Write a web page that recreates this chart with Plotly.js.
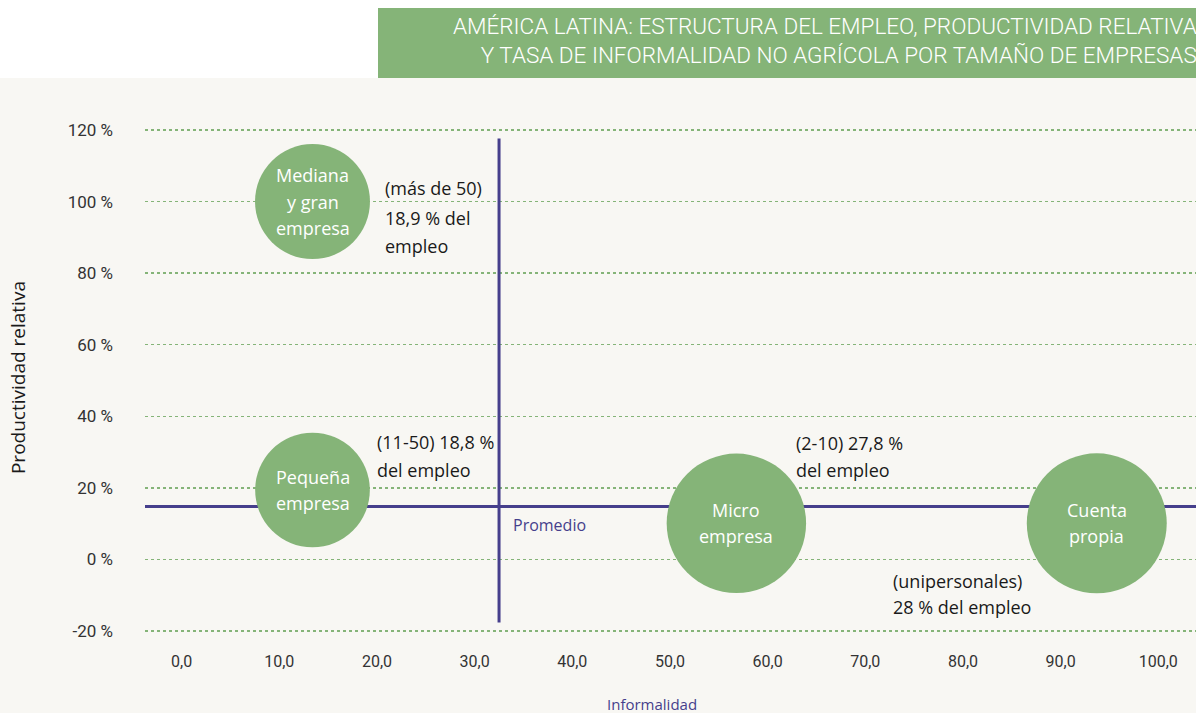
<!DOCTYPE html>
<html>
<head>
<meta charset="utf-8">
<script src="https://cdn.plot.ly/plotly-3.0.1.min.js"></script>
<style>html,body{margin:0;padding:0;background:#f8f7f3;}#chart{width:1196px;height:713px;}</style>
</head>
<body>
<div id="chart"></div>
<script>
// ---- data ----
var categories = ["Mediana<br>y gran<br>empresa", "Pequeña<br>empresa", "Micro<br>empresa", "Cuenta<br>propia"];
var informalidad = [13.4, 13.4, 56.8, 93.7];          // x (%)
var productividad = [100, 19.4, 10.1, 10.1];          // y (%)
var empleo = [18.9, 18.8, 27.8, 28.0];                // % del empleo (bubble size)
var promedioInformalidad = 32.5;
var promedioProductividad = 14.8;
var yTickVals = [-20, 0, 20, 40, 60, 80, 100, 120];
var yTickText = ["-20 %", "0 %", "20 %", "40 %", "60 %", "80 %", "100 %", "120 %"];
var xTickVals = [0, 10, 20, 30, 40, 50, 60, 70, 80, 90, 100];
var xTickText = ["0,0", "10,0", "20,0", "30,0", "40,0", "50,0", "60,0", "70,0", "80,0", "90,0", "100,0"];
var noteLines = [
  ["(más de 50)", "18,9 % del", "empleo"],
  ["(11-50) 18,8 %", "del empleo"],
  ["(2-10) 27,8 %", "del empleo"],
  ["(unipersonales)", "28 % del empleo"]
];
var noteX = [20.6, 19.8, 62.7, 72.6];
var noteY = [[103.9, 95.3, 87.5], [32.7, 24.9], [32.4, 24.9], [-5.9, -13.4]];
var titleLines = ["AMÉRICA LATINA: ESTRUCTURA DEL EMPLEO, PRODUCTIVIDAD RELATIVA", "Y TASA DE INFORMALIDAD NO AGRÍCOLA POR TAMAÑO DE EMPRESAS"];

var GREEN = "#85b478", PURPLE = "#463f8c", BG = "#f8f7f3";
var FONT = "'Open Sans', Roboto, sans-serif";
var TICKFONT = "Roboto, sans-serif";

var traces = [
  {
    type: "scatter", mode: "lines", hoverinfo: "skip", showlegend: false,
    x: [-10, 110], y: [promedioProductividad, promedioProductividad],
    line: {color: PURPLE, width: 3}
  },
  {
    type: "scatter", mode: "lines", hoverinfo: "skip", showlegend: false,
    x: [promedioInformalidad, promedioInformalidad], y: [-17.6, 117.6],
    line: {color: PURPLE, width: 3}
  },
  {
    type: "scatter", mode: "markers", showlegend: false,
    x: informalidad, y: productividad,
    marker: {size: empleo, sizemode: "area", sizeref: 0.00286, color: GREEN, opacity: 1, line: {width: 0}}
  }
];

var annotations = [];
// bubble labels (line spacing like reference)
categories.forEach(function(c, i){
  var lines = c.split("<br>");
  var step = 7.3; // data units between lines
  lines.forEach(function(t, j){
    var off = ((lines.length - 1) / 2 - j) * step;
    annotations.push({x: informalidad[i], y: productividad[i] + off, xref: "x", yref: "y", text: t, showarrow: false,
      xanchor: "center", yanchor: "middle", font: {family: FONT, size: 18, color: "#ffffff"}});
  });
});
noteLines.forEach(function(lines, i){
  lines.forEach(function(t, j){
    annotations.push({x: noteX[i], y: noteY[i][j], xref: "x", yref: "y", text: t, showarrow: false,
      xanchor: "left", yanchor: "middle", font: {family: FONT, size: 18, color: "#1a1a1a"}});
  });
});
annotations.push({x: promedioInformalidad + 1.2, y: 9.5, xref: "x", yref: "y", text: "Promedio", showarrow: false,
  xanchor: "left", yanchor: "middle", font: {family: FONT, size: 16, color: PURPLE}});
annotations.push({x: 1.003, y: 1.1073, xref: "paper", yref: "paper", text: titleLines.join("<br>"), showarrow: false,
  xanchor: "right", yanchor: "middle", align: "right",
  font: {family: "Roboto, sans-serif", size: 22.5, weight: 300, color: "#ffffff"}});
annotations.push({x: 0.482, y: -0.098, xref: "paper", yref: "paper", text: "Informalidad", showarrow: false,
  xanchor: "center", yanchor: "middle", font: {family: FONT, size: 15, color: PURPLE}});
annotations.push({x: -0.1208, y: 0.4945, xref: "paper", yref: "paper", text: "Productividad relativa", showarrow: false,
  textangle: -90, xanchor: "center", yanchor: "middle", font: {family: FONT, size: 19, color: "#1a1a1a"}});

var layout = {
  width: 1196, height: 713,
  paper_bgcolor: BG, plot_bgcolor: BG,
  margin: {l: 145, r: 0, t: 100, b: 63},
  showlegend: false,
  font: {family: FONT, color: "#333"},
  xaxis: {
    range: [-3.75, 103.86], tickvals: xTickVals, ticktext: xTickText,
    showgrid: false, zeroline: false, showline: false, ticks: "",
    ticklabeloverflow: "allow",
    tickfont: {family: TICKFONT, size: 16, color: "#333"}
  },
  yaxis: {
    range: [-25.31, 128.38], tickvals: yTickVals, ticktext: yTickText,
    showgrid: true, gridcolor: GREEN, griddash: "dot", gridwidth: 1.5,
    zeroline: false, showline: false, ticks: "", ticklabelstandoff: 31,
    tickfont: {family: TICKFONT, size: 17, color: "#333"}
  },
  shapes: [
    {type: "rect", xref: "paper", yref: "paper", x0: -0.2, x1: 1.01, y0: 1.04, y1: 1.3, fillcolor: "#ffffff", line: {width: 0}, layer: "below"},
    {type: "rect", xref: "paper", yref: "paper", x0: 0.2217, x1: 1.01, y0: 1.04, y1: 1.1673, fillcolor: GREEN, line: {width: 0}, layer: "below"}
  ],
  annotations: annotations
};

Plotly.newPlot("chart", traces, layout, {displayModeBar: false, staticPlot: true});
</script>
</body>
</html>
